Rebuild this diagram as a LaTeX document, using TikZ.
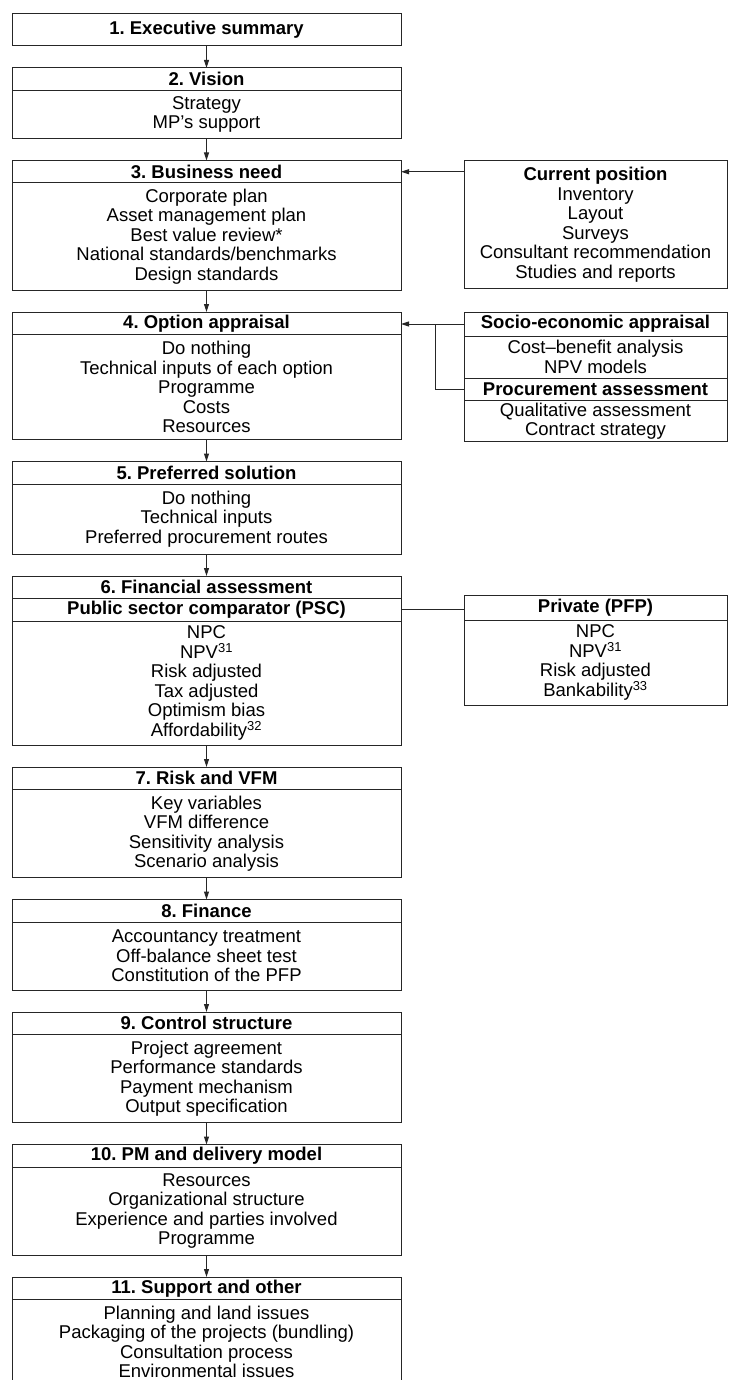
\documentclass[tikz,border=0pt]{standalone}
\usepackage{fontspec}
\setmainfont{Liberation Sans}
\usetikzlibrary{arrows.meta,positioning}
\newcommand{\boxfont}{\fontsize{18.5pt}{19.5pt}\selectfont\frenchspacing}

\begin{document}
\begin{tikzpicture}[
        hdr/.style={draw=black!85, line width=1pt, minimum width=389pt, minimum height=22.5pt, inner sep=0pt, outer sep=0pt, align=center, font=\boxfont\bfseries},
        body/.style={draw=black!85, line width=1pt, minimum width=389pt, inner sep=0pt, outer sep=0pt, align=center, font=\boxfont},
        sidehdr/.style={hdr, minimum width=263pt},
        sidebody/.style={body, minimum width=263pt},
        arrow/.style={-{Triangle[length=8pt,width=5pt]}, line width=1pt, draw=black!85},
        link/.style={line width=1pt, draw=black!85}
    ]
    \useasboundingbox (0,0) rectangle (728pt,-1380pt);
    \clip (0,0) rectangle (728pt,-1380pt);
    % Main column
    \node[hdr, minimum height=32pt, anchor=north] (sum) at (206.5pt,-14pt) {1. Executive summary};
    \node[hdr, below=22pt of sum] (vis) {2. Vision};
    \node[body, below=0pt of vis, minimum height=48pt] (visb) {Strategy\\MP’s support};
    \node[hdr, below=22pt of visb] (need) {3. Business need};
    \node[body, below=0pt of need, minimum height=107pt] (needb) {Corporate plan\\Asset management plan\\Best value review*\\National standards/benchmarks\\Design standards};
    \node[hdr, below=22pt of needb] (opt) {4. Option appraisal};
    \node[body, below=0pt of opt, minimum height=105pt] (optb) {Do nothing\\Technical inputs of each option\\Programme\\Costs\\Resources};
    \node[hdr, below=22pt of optb] (pref) {5. Preferred solution};
    \node[body, below=0pt of pref, minimum height=70pt] (prefb) {Do nothing\\Technical inputs\\Preferred procurement routes};
    \node[hdr, below=22pt of prefb] (fin) {6. Financial assessment};
    \node[hdr, below=0pt of fin] (psc) {Public sector comparator (PSC)};
    \node[body, below=0pt of psc, minimum height=124pt] (finb) {NPC\\NPV\textsuperscript{31}\\Risk adjusted\\Tax adjusted\\Optimism bias\\Affordability\textsuperscript{32}};
    \node[hdr, below=22pt of finb] (risk) {7. Risk and VFM};
    \node[body, below=0pt of risk, minimum height=88pt] (riskb) {Key variables\\VFM difference\\Sensitivity analysis\\Scenario analysis};
    \node[hdr, below=22pt of riskb] (finc) {8. Finance};
    \node[body, below=0pt of finc, minimum height=68pt] (fincb) {Accountancy treatment\\Off-balance sheet test\\Constitution of the PFP};
    \node[hdr, below=22pt of fincb] (ctrl) {9. Control structure};
    \node[body, below=0pt of ctrl, minimum height=88pt] (ctrlb) {Project agreement\\Performance standards\\Payment mechanism\\Output specification};
    \node[hdr, below=22pt of ctrlb] (pm) {10. PM and delivery model};
    \node[body, below=0pt of pm, minimum height=88pt] (pmb) {Resources\\Organizational structure\\Experience and parties involved\\Programme};
    \node[hdr, below=22pt of pmb] (supp) {11. Support and other};
    \node[body, below=0pt of supp, minimum height=85pt] (suppb) {Planning and land issues\\Packaging of the projects (bundling)\\Consultation process\\Environmental issues};
    % Side boxes
    \node[sidebody, anchor=north west, minimum height=128pt] (cur) at ([xshift=63pt]need.north east) {\textbf{Current position}\\Inventory\\Layout\\Surveys\\Consultant recommendation\\Studies and reports};
    \node[sidehdr, anchor=north west, minimum height=24pt] (socio) at ([xshift=63pt]opt.north east) {Socio-economic appraisal};
    \node[sidebody, below=0pt of socio, minimum height=42pt] (sociob) {Cost–benefit analysis\\NPV models};
    \node[sidehdr, below=0pt of sociob] (proc) {Procurement assessment};
    \node[sidebody, below=0pt of proc, minimum height=41pt] (procb) {Qualitative assessment\\Contract strategy};
    \node[sidehdr, anchor=north west, minimum height=25pt] (priv) at ([xshift=63pt, yshift=-19pt]fin.north east) {Private (PFP)};
    \node[sidebody, below=0pt of priv, minimum height=85pt] (privb) {NPC\\NPV\textsuperscript{31}\\Risk adjusted\\Bankability\textsuperscript{33}};
    % Arrows
    \foreach \a/\b in {sum/vis, visb/need, needb/opt, optb/pref, prefb/fin, finb/risk, riskb/finc, fincb/ctrl, ctrlb/pm, pmb/supp}
        \draw[arrow] (\a) -- (\b);
    \draw[arrow] (need.east -| cur.west) -- (need.east);
    \draw[arrow] (socio.west) -- (socio.west -| opt.east);
    \draw[link] (proc.west) -| ([xshift=-29pt]socio.west);
    \draw[link] (psc.east) -- (psc.east -| priv.west);
\end{tikzpicture}
\end{document}
